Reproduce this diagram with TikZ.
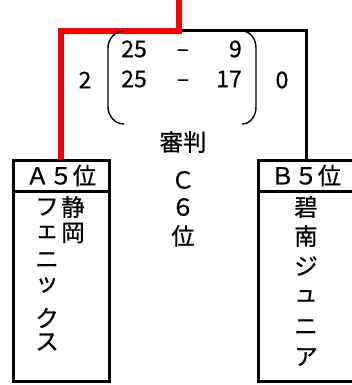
\documentclass[tikz,border=0pt]{standalone}
\usepackage{fontspec}
\setmainfont{Noto Sans CJK JP}[FakeBold=0.6]
\usetikzlibrary{calc,positioning}
\tikzset{
  frame/.style={draw, line width=3pt, minimum width=96pt, inner sep=0pt},
  winner/.style={draw=red, line width=6pt},
  loser/.style={draw=black, line width=3pt},
  jp/.style={inner sep=0pt, font=\fontsize{23.5}{23.5}\selectfont},
  score/.style={inner sep=0pt, font=\fontsize{23}{23}\selectfont},
}

\begin{document}
\begin{tikzpicture}[x=1pt,y=-1pt]
			\useasboundingbox (0,0) rectangle (351,385);
			\coordinate (T) at (179,-5);
			\coordinate (M) at (179,31);
			
			\node[frame, minimum height=31pt, jp] (hA) at (61,175.5) {Ａ５位};
			\node[frame, minimum height=190pt] (bA) at (61,286) {};
			\node[frame, minimum height=31pt, jp] (hB) at (306,175.5) {Ｂ５位};
			\node[frame, minimum height=190pt] (bB) at (306,286) {};
			
			\draw[loser] (M) -| (hB.north);
			\draw[winner] (T) -- (M) -| (hA.north);
			
			% score
			\node[score] (s1) at (134,49) {25};
			\node[score] (d1) at (183,53) {–};
			\node[score, anchor=east] (t1) at (242,49) {9};
			\node[score] (s2) at (134,79) {25};
			\node[score] (d2) at (183,83) {–};
			\node[score, anchor=east] (t2) at (242,79) {17};
			\node[score] (wA) at (85,80) {2};
			\node[score] (wB) at (282,80) {0};
			
			\draw[line width=1.4pt] (124,31) to[out=180,in=90] (108,48) -- (108,107) to[out=-90,in=180] (124,124);
			\draw[line width=1.4pt] (242,31) to[out=0,in=90] (256,48) -- (256,107) to[out=-90,in=0] (242,124);
			
			% referee
			\node[jp] (ref) at (183,142) {審判};
			\node[jp] (rC) at (183,180) {Ｃ};
			\node[jp] (r6) at (183,207) {６};
			\node[jp] (r7) at (183,236) {位};
			
			% team names
			\foreach \c/\y [count=\i] in {静/207, 岡/233}
			  \node[jp] (nA\i) at (73,\y) {\c};
			\foreach \c/\y [count=\i] in {フ/207, ェ/232, ニ/260, ッ/285, ク/318, ス/342}
			  \node[jp] (kA\i) at (47,\y) {\c};
			\foreach \c/\y [count=\i] in {碧/207, 南/236, ジ/266, ュ/296, ニ/327, ア/357}
			  \node[jp] (nB\i) at (306,\y) {\c};
		\end{tikzpicture}
\end{document}
